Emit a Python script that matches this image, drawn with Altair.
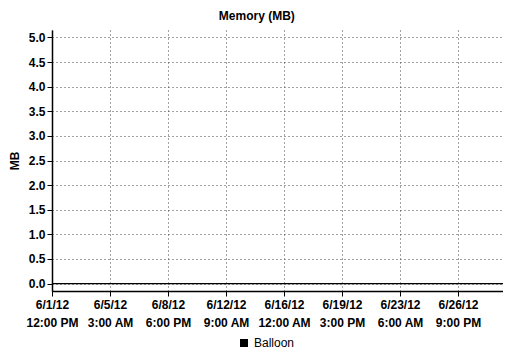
import altair as alt
import pandas as pd

# Series data (Balloon memory, MB) - flat at zero across the month
times = [
    "2012-06-01T12:00:00Z", "2012-06-03T00:00:00Z", "2012-06-05T00:00:00Z",
    "2012-06-07T00:00:00Z", "2012-06-09T00:00:00Z", "2012-06-11T00:00:00Z",
    "2012-06-13T00:00:00Z", "2012-06-15T00:00:00Z", "2012-06-17T00:00:00Z",
    "2012-06-19T00:00:00Z", "2012-06-21T00:00:00Z", "2012-06-23T00:00:00Z",
    "2012-06-25T00:00:00Z", "2012-06-27T00:00:00Z", "2012-06-29T00:00:00Z",
    "2012-06-29T16:30:00Z",
]
balloon = [0, 0, 0, 0, 0, 0, 0, 0, 0, 0, 0, 0, 0, 0, 0, 0]
series = ["Balloon"] * len(times)

# Axis tick positions (every 3 days 15 hours)
tick_dates = [(2012, 6, 1, 12, 0), (2012, 6, 5, 3, 0), (2012, 6, 8, 18, 0), (2012, 6, 12, 9, 0),
              (2012, 6, 16, 0, 0), (2012, 6, 19, 15, 0), (2012, 6, 23, 6, 0), (2012, 6, 26, 21, 0)]
y_ticks = [0, 0.5, 1.0, 1.5, 2.0, 2.5, 3.0, 3.5, 4.0, 4.5, 5.0]

df = pd.DataFrame({"time": times, "value": balloon, "series": series})

def dt(y, m, d, h, mi=0):
    return alt.DateTime(year=y, month=m, date=d, hours=h, minutes=mi, utc=True)

FONT = "Liberation Sans"

x_axis = alt.Axis(
    values=[dt(*t) for t in tick_dates],
    labelExpr="[utcFormat(datum.value, '%-m/%-d/%y'), utcFormat(datum.value, '%-I:%M %p')]",
    labelLineHeight=18, labelFont=FONT, labelFontSize=12, labelFontWeight="bold",
    labelColor="black", labelPadding=3, tickSize=5, tickColor="black",
    domainColor="black", domainWidth=1.5, grid=True, gridDash=[1, 3], gridColor="#444",
    gridOpacity=1, title=None, labelOverlap=False, labelFlush=False,
)
y_axis = alt.Axis(
    values=y_ticks, format=".1f", labelFont=FONT, labelFontSize=12, labelFontWeight="bold",
    labelColor="black", labelPadding=2, tickSize=5, tickColor="black",
    domainColor="black", domainWidth=1.5, grid=True, gridDash=[1, 3], gridColor="#444",
    gridOpacity=1, title="MB", titleFont=FONT, titleFontSize=12, titleFontWeight="bold",
    titleColor="black", titlePadding=7,
)

chart = alt.Chart(df).mark_line(color="black", strokeWidth=1.2).encode(
    x=alt.X("time:T", scale=alt.Scale(type="utc", domain=[dt(2012, 6, 1, 12), dt(2012, 6, 29, 16, 30)]),
            axis=x_axis),
    y=alt.Y("value:Q", scale=alt.Scale(domain=[-0.15, 5.15], nice=False, zero=False), axis=y_axis),
    color=alt.Color("series:N", scale=alt.Scale(range=["black"]),
                    legend=alt.Legend(title=None, orient="none", legendX=186, legendY=307,
                                      symbolType="square", symbolSize=64, symbolFillColor="black",
                                      symbolStrokeWidth=0, labelFont=FONT, labelFontSize=12,
                                      labelColor="black")),
).properties(
    width=451, height=261,
    title=alt.TitleParams("Memory (MB)", font=FONT, fontSize=12, fontWeight="bold",
                          color="black", anchor="middle", frame="bounds", offset=7),
    autosize=alt.AutoSizeParams(type="none"),
    padding={"left": 44, "top": 22, "right": 0, "bottom": 58},
).configure_view(stroke=None)

chart.save("out.html", embed_options={"renderer": "svg", "actions": False})
